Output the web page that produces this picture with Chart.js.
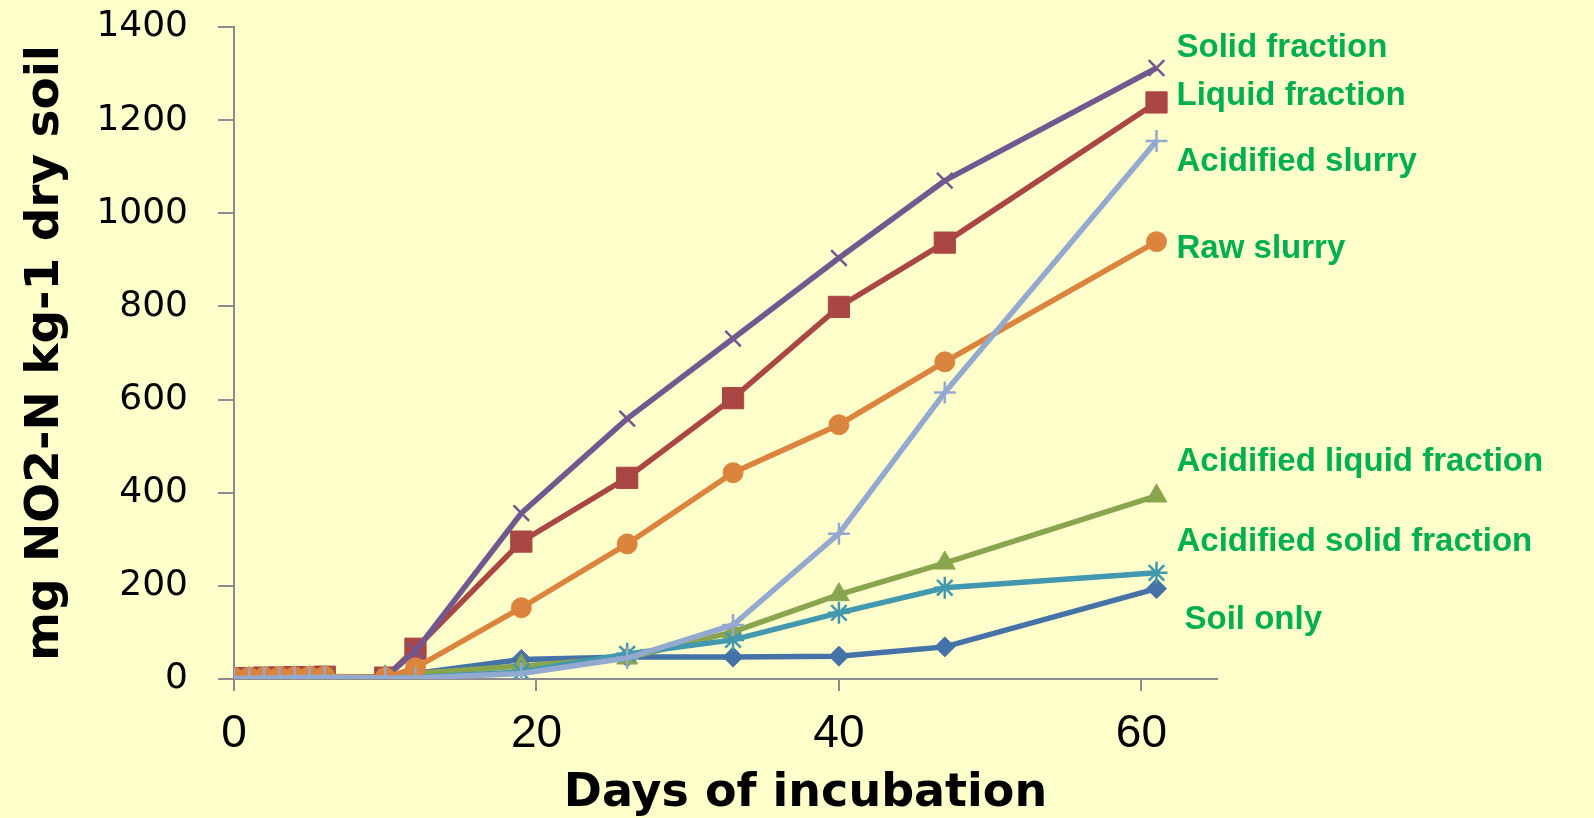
<!DOCTYPE html>
<html>
<head>
<meta charset="utf-8">
<script src="https://cdn.jsdelivr.net/npm/chart.js@4"></script>
<style>
  html, body { margin: 0; padding: 0; background: #FFFFCC; }
  canvas { display: block; }
</style>
</head>
<body>
<canvas id="no2Chart" width="1594" height="818"></canvas>
<script>
// days of incubation
const days = [0, 1, 2, 3, 4, 5, 6, 10, 12, 19, 26, 33, 40, 47, 61];

// mg NO2-N per kg dry soil
const soilOnly = [2, 2, 3, 3, 4, 4, 5, 5, 12, 42, 47, 47, 49, 69, 194];
const liquidFraction = [2, 2, 3, 3, 4, 4, 5, 3, 65, 295, 432, 603, 799, 937, 1238];
const acidLiquidFraction = [1, 1, 2, 2, 3, 3, 4, 5, 12, 28, 45, 101, 181, 249, 393];
const solidFraction = [1, 2, 2, 3, 3, 4, 4, 3, 60, 356, 559, 731, 904, 1070, 1312];
const acidSolidFraction = [1, 1, 2, 2, 3, 3, 4, 2, 3, 15, 54, 84, 142, 196, 228];
const rawSlurry = [3, 4, 4, 5, 5, 6, 6, 3, 24, 153, 290, 443, 546, 681, 939];
const acidSlurry = [1, 1, 2, 2, 3, 3, 4, 2, 2, 12, 45, 116, 312, 615, 1155];

const xTicks = [0, 20, 40, 60];

// series names, and the height (in y units) where each label sits at the right
const names = ['Soil only', 'Liquid fraction', 'Acidified liquid fraction', 'Solid fraction',
  'Acidified solid fraction', 'Raw slurry', 'Acidified slurry'];
const labelLevels = [127, 1252, 466, 1355, 295, 923, 1110];

const series = [soilOnly, liquidFraction, acidLiquidFraction, solidFraction,
  acidSolidFraction, rawSlurry, acidSlurry];
const colors = ['#4572A7', '#AA4643', '#89A54E', '#71588F', '#4198AF', '#DB843D', '#93A9CF'];
const markers = ['rectRot', 'rect', 'triangle', 'crossRot', 'star', 'circle', 'cross'];
const markerSize = [10, 15, 12, 11, 11, 10, 11];

const datasets = series.map((vals, i) => ({
  label: names[i],
  data: vals.map((v, j) => ({ x: days[j], y: v })),
  borderColor: colors[i],
  backgroundColor: colors[i],
  borderWidth: 5.5,
  pointStyle: markers[i],
  pointRadius: markerSize[i],
  pointBackgroundColor: colors[i],
  pointBorderColor: colors[i],
  pointBorderWidth: (markers[i] === 'cross' || markers[i] === 'crossRot' || markers[i] === 'star') ? 2.5 : 1,
  tension: 0,
  order: series.length - i
}));

const labelsPlugin = {
  id: 'labels',
  afterDraw(chart) {
    const ctx = chart.ctx;
    const xs = chart.scales.x;
    const ys = chart.scales.y;
    const area = chart.chartArea;
    ctx.save();
    // series labels
    ctx.fillStyle = '#00B050';
    ctx.font = 'bold 33px "Liberation Sans", Arial, sans-serif';
    ctx.textAlign = 'left';
    ctx.textBaseline = 'middle';
    names.forEach((n, i) => {
      const x = xs.getPixelForValue(days[days.length - 1]) + (n === 'Soil only' ? 28 : 20);
      ctx.fillText(n, x, ys.getPixelForValue(labelLevels[i]));
    });
    // x axis title
    ctx.fillStyle = '#000';
    ctx.font = 'bold 46px "DejaVu Sans", sans-serif';
    ctx.textAlign = 'center';
    ctx.fillText('Days of incubation', (area.left + area.right) / 2 + 80, 794);
    ctx.restore();
  }
};

new Chart(document.getElementById('no2Chart'), {
  type: 'line',
  data: { datasets },
  options: {
    responsive: false,
    animation: false,
    layout: { padding: { top: 27, right: 377, left: 0, bottom: 0 } },
    plugins: {
      legend: { display: false },
      tooltip: { enabled: false }
    },
    scales: {
      x: {
        type: 'linear',
        min: 0,
        max: 65,
        afterBuildTicks: s => { s.ticks = xTicks.map(v => ({ value: v })); },
        afterFit: s => { s.height = 139; s.paddingLeft = 0; s.paddingRight = 0; },
        grid: { drawOnChartArea: false, drawTicks: true, tickLength: 12, color: '#8c8c8c', lineWidth: 2 },
        border: { color: '#8c8c8c', width: 2 },
        ticks: {
          padding: 16,
          color: '#000',
          maxRotation: 0,
          font: { family: '"Liberation Sans Narrow", "Liberation Sans", sans-serif', size: 46 }
        }
      },
      y: {
        min: 0,
        max: 1400,
        afterFit: s => { s.width = 234; s.paddingTop = 0; s.paddingBottom = 0; },
        grid: { drawOnChartArea: false, drawTicks: true, tickLength: 16, color: '#8c8c8c', lineWidth: 2 },
        border: { color: '#8c8c8c', width: 2 },
        ticks: {
          stepSize: 200,
          padding: 30,
          color: '#000',
          callback: v => String(v),
          font: { family: '"DejaVu Sans", sans-serif', size: 36 }
        },
        title: {
          display: true,
          text: 'mg NO2-N kg-1 dry soil',
          color: '#000',
          padding: { top: 18, bottom: 0 },
          font: { family: '"DejaVu Sans", sans-serif', size: 47, weight: 'bold' }
        }
      }
    }
  },
  plugins: [labelsPlugin]
});
</script>
</body>
</html>
